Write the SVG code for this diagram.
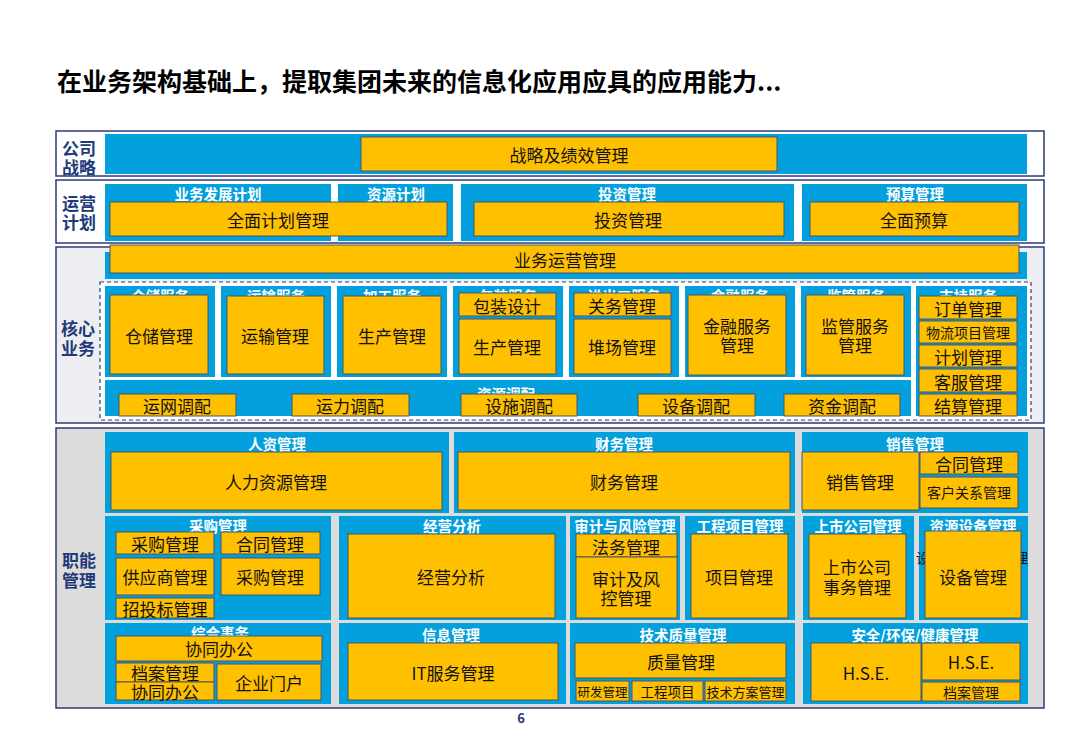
<svg xmlns="http://www.w3.org/2000/svg" width="1080" height="750" viewBox="0 0 1080 750">
<style>
text{font-family:"Noto Sans CJK SC","Noto Sans",sans-serif;dominant-baseline:central;text-anchor:middle}
.frame{stroke:#2E3B7B;stroke-width:1.5}
.sec{fill:#02A0DC}
.box{fill:#FFC000;stroke:#4B5563;stroke-width:1}
.hd{font-size:14.5px;font-weight:bold;fill:#FFFFFF}
.t{font-size:17px;fill:#111111}
.s{font-size:14px;fill:#111111}
.xs{font-size:12.5px;fill:#111111}
.lbl{font-size:17px;font-weight:bold;fill:#1F3A78}
</style>
<rect width="1080" height="750" fill="#FFFFFF"/>
<text x="57" y="80" style="text-anchor:start;font-size:25px;font-weight:bold;fill:#000">在业务架构基础上，提取集团未来的信息化应用应具的应用能力...</text>

<g id="row-strategy">
<rect class="frame" x="56" y="131" width="988" height="45" fill="#FFFFFF"/>
<text class="lbl" x="79" y="147">公司</text><text class="lbl" x="79" y="166">战略</text>
<rect class="sec" x="105" y="134" width="922" height="40"/>
<g id="n-strategy"><rect class="box" x="361" y="137" width="416" height="34"/><text class="t" x="569" y="154">战略及绩效管理</text></g>
</g>

<g id="row-plan">
<rect class="frame" x="56" y="180" width="988" height="63" fill="#FFFFFF"/>
<text class="lbl" x="79" y="202">运营</text><text class="lbl" x="79" y="221">计划</text>
<rect class="sec" x="105" y="184" width="226" height="57"/>
<rect class="sec" x="338" y="184" width="115" height="57"/>
<rect class="sec" x="461" y="184" width="333" height="57"/>
<rect class="sec" x="802" y="184" width="225" height="57"/>
<text class="hd" x="218" y="193">业务发展计划</text>
<text class="hd" x="396" y="193">资源计划</text>
<text class="hd" x="627" y="193">投资管理</text>
<text class="hd" x="915" y="193">预算管理</text>
<g id="n-plan"><rect class="box" x="110" y="202" width="337" height="34"/><text class="t" x="278" y="219">全面计划管理</text></g>
<g id="n-invest"><rect class="box" x="474" y="202" width="310" height="34"/><text class="t" x="628" y="219">投资管理</text></g>
<g id="n-budget"><rect class="box" x="810" y="202" width="209" height="34"/><text class="t" x="914" y="219">全面预算</text></g>
</g>

<g id="row-core">
<rect class="frame" x="56" y="247" width="988" height="176" fill="#EDEEF2"/>
<text class="lbl" x="78" y="327">核心</text><text class="lbl" x="78" y="347">业务</text>
<rect class="sec" x="105" y="252" width="922" height="27"/>
<g id="n-ops"><rect class="box" x="110" y="245" width="909" height="28"/><text class="t" x="565" y="259">业务运营管理</text></g>
<rect x="100" y="282" width="931" height="138" fill="#FFFFFF" stroke="#2E3B7B" stroke-width="1.2" stroke-dasharray="4 3"/>
<rect class="sec" x="105" y="286" width="110" height="91"/>
<rect class="sec" x="221" y="286" width="110" height="91"/>
<rect class="sec" x="337" y="286" width="110" height="91"/>
<rect class="sec" x="453" y="286" width="110" height="91"/>
<rect class="sec" x="569" y="286" width="110" height="91"/>
<rect class="sec" x="685" y="286" width="110" height="91"/>
<rect class="sec" x="801" y="286" width="110" height="91"/>
<rect class="sec" x="916" y="286" width="111" height="130"/>
<rect class="sec" x="105" y="380" width="806" height="36"/>
<text class="hd" x="160" y="295">仓储服务</text>
<text class="hd" x="276" y="295">运输服务</text>
<text class="hd" x="392" y="295">加工服务</text>
<text class="hd" x="508" y="295">包装服务</text>
<text class="hd" x="624" y="295">进出口服务</text>
<text class="hd" x="740" y="295">金融服务</text>
<text class="hd" x="856" y="295">监管服务</text>
<text class="hd" x="968" y="295">支持服务</text>
<text class="hd" x="506" y="393">资源调配</text>
<g id="n-wh"><rect class="box" x="110" y="295" width="98" height="79"/><text class="t" x="159" y="335">仓储管理</text></g>
<g id="n-tr"><rect class="box" x="227" y="296" width="97" height="78"/><text class="t" x="275" y="335">运输管理</text></g>
<g id="n-pr1"><rect class="box" x="343" y="296" width="98" height="78"/><text class="t" x="392" y="335">生产管理</text></g>
<g id="n-pack"><rect class="box" x="459" y="293" width="97" height="23"/><text class="t" x="507" y="305">包装设计</text></g>
<g id="n-pr2"><rect class="box" x="459" y="319" width="97" height="55"/><text class="t" x="507" y="346">生产管理</text></g>
<g id="n-cus"><rect class="box" x="574" y="293" width="97" height="23"/><text class="t" x="622" y="305">关务管理</text></g>
<g id="n-yard"><rect class="box" x="574" y="319" width="97" height="55"/><text class="t" x="622" y="346">堆场管理</text></g>
<g id="n-fin"><rect class="box" x="688" y="295" width="98" height="80"/><text class="t" x="737" y="325">金融服务</text><text class="t" x="737" y="344">管理</text></g>
<g id="n-sup"><rect class="box" x="806" y="295" width="98" height="80"/><text class="t" x="855" y="325">监管服务</text><text class="t" x="855" y="344">管理</text></g>
<g id="n-order"><rect class="box" x="919" y="296" width="98" height="23"/><text class="t" x="968" y="308">订单管理</text></g>
<g id="n-logi"><rect class="box" x="919" y="321" width="98" height="22"/><text class="s" x="968" y="332">物流项目管理</text></g>
<g id="n-plan2"><rect class="box" x="919" y="345" width="98" height="22"/><text class="t" x="968" y="356">计划管理</text></g>
<g id="n-cs"><rect class="box" x="919" y="369" width="98" height="23"/><text class="t" x="968" y="381">客服管理</text></g>
<g id="n-settle"><rect class="box" x="919" y="394" width="98" height="22"/><text class="t" x="968" y="405">结算管理</text></g>
<g id="n-r1"><rect class="box" x="119" y="394" width="117" height="22"/><text class="t" x="177" y="405">运网调配</text></g>
<g id="n-r2"><rect class="box" x="292" y="394" width="117" height="22"/><text class="t" x="350" y="405">运力调配</text></g>
<g id="n-r3"><rect class="box" x="461" y="394" width="116" height="22"/><text class="t" x="519" y="405">设施调配</text></g>
<g id="n-r4"><rect class="box" x="638" y="394" width="117" height="22"/><text class="t" x="696" y="405">设备调配</text></g>
<g id="n-r5"><rect class="box" x="784" y="394" width="116" height="22"/><text class="t" x="842" y="405">资金调配</text></g>
</g>

<g id="row-func">
<rect class="frame" x="56" y="428" width="988" height="280" fill="#DCDCDC"/>
<text class="lbl" x="79" y="559">职能</text><text class="lbl" x="79" y="579">管理</text>
<rect class="sec" x="105" y="432" width="344" height="81"/>
<rect class="sec" x="454" y="432" width="341" height="81"/>
<rect class="sec" x="802" y="432" width="226" height="81"/>
<rect class="sec" x="105" y="516" width="226" height="104"/>
<rect class="sec" x="339" y="516" width="227" height="104"/>
<rect class="sec" x="570" y="516" width="110" height="104"/>
<rect class="sec" x="685" y="516" width="110" height="104"/>
<rect class="sec" x="803" y="516" width="111" height="104"/>
<rect class="sec" x="919" y="516" width="109" height="104"/>
<rect class="sec" x="105" y="623" width="226" height="81"/>
<rect class="sec" x="339" y="623" width="227" height="81"/>
<rect class="sec" x="570" y="623" width="225" height="81"/>
<rect class="sec" x="803" y="623" width="225" height="81"/>
<text class="hd" x="277" y="443">人资管理</text>
<text class="hd" x="624" y="443">财务管理</text>
<text class="hd" x="915" y="443">销售管理</text>
<text class="hd" x="218" y="525">采购管理</text>
<text class="hd" x="452" y="525">经营分析</text>
<text class="hd" x="625" y="525">审计与风险管理</text>
<text class="hd" x="740" y="525">工程项目管理</text>
<text class="hd" x="858" y="525">上市公司管理</text>
<text class="hd" x="973" y="525">资源设备管理</text>
<text class="hd" x="220" y="632">综合事务</text>
<text class="hd" x="451" y="634">信息管理</text>
<text class="hd" x="683" y="634">技术质量管理</text>
<text class="hd" x="915" y="634">安全/环保/健康管理</text>
<text class="s" x="972" y="557" textLength="112" lengthAdjust="spacing">设备设施管理</text>
<g id="n-hr"><rect class="box" x="111" y="452" width="331" height="58"/><text class="t" x="276" y="481">人力资源管理</text></g>
<g id="n-fm"><rect class="box" x="458" y="452" width="332" height="58"/><text class="t" x="624" y="481">财务管理</text></g>
<g id="n-sales"><rect class="box" x="802" y="452" width="117" height="58"/><text class="t" x="860" y="481">销售管理</text></g>
<g id="n-contract"><rect class="box" x="920" y="452" width="98" height="22"/><text class="t" x="969" y="463">合同管理</text></g>
<g id="n-crm"><rect class="box" x="920" y="477" width="98" height="31"/><text class="s" x="969" y="492">客户关系管理</text></g>
<g id="n-pur1"><rect class="box" x="116" y="532" width="98" height="22"/><text class="t" x="165" y="543">采购管理</text></g>
<g id="n-con2"><rect class="box" x="221" y="532" width="99" height="22"/><text class="t" x="270" y="543">合同管理</text></g>
<g id="n-vendor"><rect class="box" x="116" y="558" width="98" height="37"/><text class="t" x="165" y="576">供应商管理</text></g>
<g id="n-pur2"><rect class="box" x="221" y="558" width="99" height="37"/><text class="t" x="270" y="576">采购管理</text></g>
<g id="n-bid"><rect class="box" x="116" y="598" width="98" height="20"/><text class="t" x="165" y="608">招投标管理</text></g>
<g id="n-ana"><rect class="box" x="348" y="534" width="207" height="84"/><text class="t" x="451" y="576">经营分析</text></g>
<g id="n-legal"><rect class="box" x="576" y="534" width="101" height="23"/><text class="t" x="626" y="546">法务管理</text></g>
<g id="n-audit"><rect class="box" x="576" y="557" width="101" height="61"/><text class="t" x="626" y="578">审计及风</text><text class="t" x="626" y="597">控管理</text></g>
<g id="n-proj"><rect class="box" x="691" y="534" width="97" height="84"/><text class="t" x="739" y="576">项目管理</text></g>
<g id="n-listed"><rect class="box" x="809" y="534" width="97" height="84"/><text class="t" x="857" y="566">上市公司</text><text class="t" x="857" y="586">事务管理</text></g>
<g id="n-equip"><rect class="box" x="925" y="531" width="96" height="87"/><text class="t" x="973" y="576">设备管理</text></g>
<g id="n-oa1"><rect class="box" x="116" y="636" width="206" height="25"/><text class="t" x="219" y="648">协同办公</text></g>
<g id="n-arch1"><rect class="box" x="116" y="663" width="98" height="19"/><text class="t" x="165" y="672">档案管理</text></g>
<g id="n-oa2"><rect class="box" x="116" y="682" width="98" height="18"/><text class="t" x="165" y="691">协同办公</text></g>
<g id="n-portal"><rect class="box" x="217" y="664" width="104" height="36"/><text class="t" x="269" y="682">企业门户</text></g>
<g id="n-it"><rect class="box" x="348" y="643" width="210" height="57"/><text class="t" x="453" y="672">IT服务管理</text></g>
<g id="n-qm"><rect class="box" x="575" y="643" width="211" height="35"/><text class="t" x="681" y="661">质量管理</text></g>
<g id="n-rd"><rect class="box" x="576" y="681" width="53" height="20"/><text class="xs" x="602.5" y="691">研发管理</text></g>
<g id="n-eng"><rect class="box" x="632" y="681" width="71" height="20"/><text class="xs" x="667.5" y="691" style="font-size:13.5px">工程项目</text></g>
<g id="n-tech"><rect class="box" x="705" y="681" width="81" height="20"/><text class="xs" x="745.5" y="691" style="font-size:13px">技术方案管理</text></g>
<g id="n-hse1"><rect class="box" x="811" y="643" width="110" height="58"/><text class="t" x="866" y="672">H.S.E.</text></g>
<g id="n-hse2"><rect class="box" x="922" y="643" width="98" height="37"/><text class="t" x="971" y="661">H.S.E.</text></g>
<g id="n-arch2"><rect class="box" x="922" y="682" width="98" height="19"/><text class="s" x="971" y="691.5">档案管理</text></g>
</g>
<g id="connectors"/>
<text x="521" y="717" style="font-size:13px;font-weight:bold;fill:#1F3A78">6</text>
</svg>
